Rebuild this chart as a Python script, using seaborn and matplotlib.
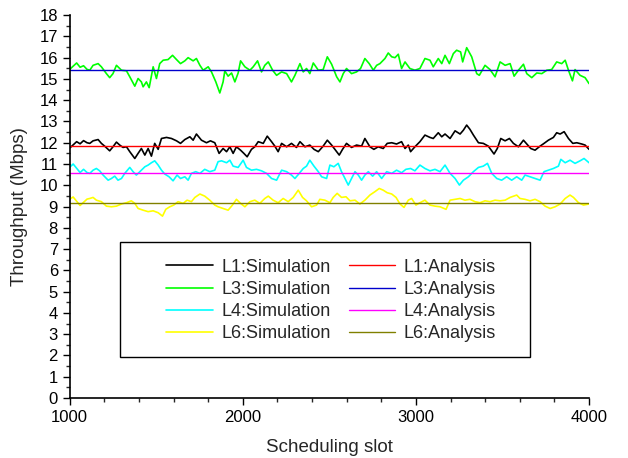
import seaborn as sns
import matplotlib.pyplot as plt
from matplotlib.patches import Rectangle
from matplotlib.ticker import MultipleLocator

# simulation traces (scheduling slot, Mbps)
l1_slot = [1000, 1020, 1040, 1060, 1080, 1100, 1116, 1135, 1164, 1183, 1202, 1231, 1250, 1270, 1289, 1308,
           1328, 1347, 1376, 1395, 1414, 1434, 1453, 1472, 1491, 1511, 1530, 1559, 1588, 1617, 1640, 1665,
           1694, 1713, 1732, 1761, 1790, 1813, 1838, 1863, 1886, 1906, 1925, 1944, 1963, 1987, 2006, 2025,
           2050, 2069, 2089, 2118, 2141, 2166, 2185, 2204, 2224, 2253, 2281, 2310, 2330, 2359, 2387, 2411,
           2436, 2464, 2488, 2513, 2532, 2557, 2576, 2599, 2628, 2657, 2686, 2705, 2734, 2757, 2782, 2811,
           2834, 2860, 2888, 2917, 2937, 2956, 2969, 2994, 3023, 3052, 3081, 3100, 3129, 3149, 3168, 3197,
           3226, 3255, 3274, 3293, 3312, 3332, 3361, 3389, 3418, 3451, 3470, 3490, 3515, 3540, 3563, 3592,
           3621, 3640, 3663, 3688, 3717, 3740, 3765, 3794, 3813, 3833, 3856, 3881, 3906, 3929, 3958, 3977, 4000]
l1_sim = [11.75, 11.90, 12.05, 11.95, 12.10, 12.00, 11.97, 12.09, 12.15, 11.97, 11.84, 11.62, 11.81, 12.03, 11.89, 11.78,
          11.81, 11.58, 11.26, 11.50, 11.73, 11.42, 11.73, 11.37, 11.97, 11.69, 12.20, 12.25, 12.20, 12.09, 11.97, 12.15,
          12.28, 12.12, 12.41, 12.12, 12.00, 12.09, 12.00, 11.50, 11.73, 11.58, 11.81, 11.50, 11.81, 11.65, 11.50, 11.34,
          11.69, 11.81, 12.05, 11.97, 12.31, 12.05, 11.84, 11.58, 11.97, 11.81, 11.97, 11.78, 12.05, 11.81, 11.89, 11.69,
          11.58, 11.84, 12.12, 11.89, 11.69, 11.42, 11.69, 11.97, 11.78, 11.89, 11.84, 12.20, 11.81, 11.69, 11.81, 11.73,
          11.97, 12.00, 11.94, 12.05, 11.73, 11.89, 11.58, 11.81, 12.05, 12.36, 12.25, 12.20, 12.47, 12.28, 12.41, 12.20,
          12.56, 12.41, 12.59, 12.83, 12.63, 12.36, 12.00, 11.97, 11.84, 11.47, 11.73, 12.20, 12.09, 12.20, 11.97, 11.81,
          12.12, 11.94, 11.73, 11.65, 11.84, 11.97, 12.12, 12.25, 12.47, 12.41, 12.52, 12.20, 11.97, 12.00, 11.94, 11.89, 11.69]

l3_slot = [1000, 1020, 1040, 1060, 1080, 1100, 1116, 1135, 1164, 1183, 1212, 1231, 1250, 1270, 1299, 1328,
           1347, 1376, 1395, 1414, 1424, 1443, 1459, 1482, 1501, 1520, 1540, 1568, 1594, 1617, 1640, 1665,
           1684, 1713, 1732, 1752, 1771, 1800, 1819, 1844, 1867, 1886, 1896, 1915, 1935, 1954, 1973, 1987,
           2012, 2041, 2060, 2085, 2108, 2127, 2147, 2172, 2195, 2224, 2253, 2281, 2301, 2330, 2349, 2368,
           2387, 2407, 2436, 2464, 2488, 2513, 2542, 2561, 2580, 2599, 2628, 2657, 2680, 2705, 2730, 2754,
           2773, 2792, 2821, 2840, 2860, 2879, 2898, 2917, 2937, 2965, 2994, 3023, 3052, 3081, 3100, 3129,
           3149, 3168, 3193, 3216, 3235, 3258, 3270, 3293, 3322, 3351, 3366, 3399, 3428, 3457, 3486, 3515,
           3544, 3567, 3592, 3621, 3640, 3669, 3698, 3727, 3756, 3784, 3813, 3842, 3862, 3881, 3904, 3919,
           3948, 3977, 4000]
l3_sim = [15.45, 15.60, 15.75, 15.55, 15.62, 15.45, 15.41, 15.64, 15.72, 15.57, 15.25, 15.06, 15.25, 15.64, 15.41, 15.38,
          15.10, 14.66, 15.02, 14.86, 14.63, 14.86, 14.59, 15.57, 15.02, 15.72, 15.88, 15.91, 16.11, 15.91, 15.72, 15.85,
          16.00, 15.85, 15.96, 15.64, 15.41, 15.57, 15.33, 14.86, 14.34, 14.86, 15.38, 15.13, 15.28, 14.86, 15.28, 15.85,
          15.57, 15.41, 15.57, 15.85, 15.33, 15.64, 15.80, 15.41, 15.17, 15.33, 15.25, 14.86, 15.17, 15.72, 15.33, 15.49,
          15.25, 15.75, 15.41, 15.44, 16.04, 15.69, 15.10, 14.86, 15.25, 15.49, 15.25, 15.33, 15.49, 15.96, 15.72, 15.41,
          15.64, 15.72, 15.96, 16.22, 16.04, 16.00, 16.16, 15.49, 15.80, 15.49, 15.41, 15.49, 15.96, 15.88, 15.57, 15.96,
          15.72, 16.11, 15.72, 16.19, 16.35, 16.27, 15.80, 16.47, 16.04, 15.25, 15.17, 15.64, 15.44, 15.10, 15.80, 15.64,
          15.72, 15.13, 15.41, 15.69, 15.25, 15.06, 15.28, 15.25, 15.41, 15.44, 15.80, 15.72, 15.88, 15.41, 14.91, 15.44,
          15.17, 15.06, 14.78]

l4_slot = [1000, 1020, 1040, 1060, 1080, 1100, 1116, 1135, 1154, 1173, 1193, 1222, 1241, 1260, 1279, 1299,
           1318, 1347, 1366, 1385, 1414, 1434, 1453, 1472, 1491, 1511, 1530, 1549, 1574, 1597, 1620, 1640,
           1665, 1684, 1703, 1728, 1752, 1780, 1809, 1838, 1857, 1877, 1906, 1925, 1944, 1973, 2002, 2021,
           2050, 2079, 2108, 2137, 2166, 2195, 2224, 2253, 2281, 2301, 2326, 2349, 2368, 2387, 2411, 2436,
           2455, 2484, 2503, 2526, 2551, 2570, 2590, 2609, 2628, 2648, 2667, 2686, 2705, 2725, 2750, 2773,
           2802, 2831, 2860, 2888, 2917, 2942, 2969, 2994, 3023, 3052, 3081, 3110, 3139, 3168, 3197, 3226,
           3251, 3274, 3303, 3332, 3361, 3389, 3413, 3438, 3467, 3495, 3524, 3553, 3582, 3611, 3630, 3659,
           3688, 3717, 3740, 3765, 3794, 3823, 3837, 3862, 3890, 3919, 3948, 3971, 4000]
l4_sim = [10.85, 11.00, 10.80, 10.60, 10.75, 10.60, 10.56, 10.71, 10.79, 10.68, 10.48, 10.24, 10.32, 10.43, 10.24, 10.32,
          10.56, 10.84, 10.64, 10.48, 10.71, 10.87, 10.95, 11.06, 11.15, 10.95, 10.71, 10.53, 10.40, 10.21, 10.48, 10.32,
          10.40, 10.24, 10.56, 10.64, 10.56, 10.75, 10.64, 10.71, 11.11, 11.15, 11.06, 11.18, 10.90, 10.84, 11.18, 10.84,
          10.71, 10.75, 10.68, 10.56, 10.32, 10.24, 10.71, 10.64, 10.48, 10.32, 10.56, 10.79, 10.90, 11.18, 10.90, 10.64,
          10.40, 10.32, 10.95, 10.87, 11.03, 10.64, 10.32, 10.01, 10.32, 10.64, 10.48, 10.24, 10.48, 10.64, 10.43, 10.64,
          10.32, 10.64, 10.56, 10.71, 10.59, 10.75, 10.79, 10.68, 10.95, 10.79, 10.68, 10.75, 10.64, 10.95, 10.56, 10.32,
          10.01, 10.24, 10.40, 10.64, 10.84, 10.90, 11.03, 10.56, 10.32, 10.24, 10.40, 10.24, 10.40, 10.24, 10.48, 10.40,
          10.32, 10.24, 10.64, 10.71, 10.79, 10.90, 11.22, 11.06, 11.18, 11.03, 11.15, 11.26, 11.06]

l6_slot = [1000, 1020, 1040, 1060, 1080, 1100, 1116, 1135, 1154, 1183, 1212, 1241, 1270, 1299, 1328, 1356,
           1376, 1395, 1424, 1453, 1482, 1511, 1536, 1555, 1578, 1601, 1626, 1655, 1678, 1703, 1723, 1752,
           1780, 1809, 1838, 1857, 1886, 1915, 1940, 1963, 1987, 2012, 2041, 2069, 2098, 2127, 2147, 2175,
           2204, 2233, 2262, 2291, 2320, 2345, 2368, 2397, 2426, 2445, 2474, 2503, 2522, 2545, 2570, 2596,
           2619, 2648, 2676, 2705, 2734, 2763, 2788, 2811, 2834, 2860, 2885, 2908, 2931, 2956, 2975, 3000,
           3023, 3052, 3081, 3110, 3139, 3174, 3197, 3226, 3255, 3283, 3312, 3341, 3370, 3399, 3428, 3457,
           3486, 3515, 3544, 3582, 3601, 3630, 3659, 3688, 3717, 3746, 3775, 3804, 3833, 3862, 3890, 3910,
           3939, 3968, 4000]
l6_sim = [9.35, 9.45, 9.25, 9.05, 9.20, 9.35, 9.38, 9.43, 9.30, 9.23, 9.02, 8.99, 9.02, 9.12, 9.18, 9.27,
          9.15, 8.91, 8.83, 8.76, 8.80, 8.71, 8.55, 8.87, 8.99, 9.07, 9.23, 9.15, 9.30, 9.23, 9.43, 9.59,
          9.49, 9.30, 9.07, 8.99, 8.91, 8.83, 9.07, 9.34, 9.15, 8.99, 9.23, 9.30, 9.15, 9.38, 9.49, 9.30,
          9.18, 9.38, 9.23, 9.43, 9.77, 9.43, 9.27, 8.99, 9.07, 9.34, 9.30, 9.18, 9.43, 9.62, 9.43, 9.46,
          9.27, 9.30, 9.12, 9.30, 9.54, 9.70, 9.85, 9.77, 9.65, 9.59, 9.43, 9.12, 8.96, 9.30, 9.38, 9.07,
          9.18, 9.30, 9.07, 9.02, 8.99, 8.87, 9.30, 9.34, 9.38, 9.30, 9.34, 9.23, 9.18, 9.27, 9.23, 9.30,
          9.27, 9.30, 9.43, 9.54, 9.38, 9.34, 9.27, 9.34, 9.23, 9.02, 8.91, 8.99, 9.12, 9.38, 9.54, 9.43,
          9.18, 9.07, 9.12]

# analytical throughput (constant over the run)
slot_range = [1000, 4000]
l1_ana = 11.87
l3_ana = 15.44
l4_ana = 10.57
l6_ana = 9.15

sns.set_style("ticks")
plt.rcParams['font.family'] = ['Liberation Sans', 'DejaVu Sans']

fig = plt.figure(figsize=(6.28, 4.58), dpi=100)
ax = fig.add_axes([0.111, 0.131, 0.827, 0.836])

sim_lw = 1.2
sns.lineplot(x=l1_slot, y=l1_sim, color="black", lw=sim_lw, label="L1:Simulation", ax=ax)
sns.lineplot(x=l3_slot, y=l3_sim, color="#00ff00", lw=sim_lw, label="L3:Simulation", ax=ax)
sns.lineplot(x=l4_slot, y=l4_sim, color="#00ffff", lw=sim_lw, label="L4:Simulation", ax=ax)
sns.lineplot(x=l6_slot, y=l6_sim, color="#ffff00", lw=sim_lw, label="L6:Simulation", ax=ax)

ana_lw = 1.0
sns.lineplot(x=slot_range, y=[l1_ana] * 2, color="#ff0000", lw=ana_lw, label="L1:Analysis", ax=ax)
sns.lineplot(x=slot_range, y=[l3_ana] * 2, color="#0000cc", lw=ana_lw, label="L3:Analysis", ax=ax)
sns.lineplot(x=slot_range, y=[l4_ana] * 2, color="#ff00ff", lw=ana_lw, label="L4:Analysis", ax=ax)
sns.lineplot(x=slot_range, y=[l6_ana] * 2, color="#808000", lw=ana_lw, label="L6:Analysis", ax=ax)

ax.set_xlim(1000, 4000)
ax.set_ylim(0, 18)
ax.xaxis.set_major_locator(MultipleLocator(1000))
ax.xaxis.set_minor_locator(MultipleLocator(200))
ax.yaxis.set_major_locator(MultipleLocator(1))
ax.yaxis.set_minor_locator(MultipleLocator(0.5))
ax.tick_params(which="major", direction="out", length=5, width=1, labelsize=12, colors="black")
ax.tick_params(which="minor", direction="out", length=3, width=1)
sns.despine(ax=ax)
for s in ["left", "bottom"]:
    ax.spines[s].set_linewidth(1.2)
    ax.spines[s].set_color("black")

ax.set_xlabel("Scheduling slot", fontsize=13.5, labelpad=10)
ax.set_ylabel("Throughput (Mbps)", fontsize=13.5, labelpad=8)

# legend box
ax.add_patch(Rectangle((0.096, 0.107), 0.79, 0.30, transform=ax.transAxes,
                       fill=False, edgecolor="black", lw=1.0, zorder=5))
ax.legend(ncol=2, loc="center", bbox_to_anchor=(0.503, 0.255), frameon=False,
          fontsize=13, handlelength=2.6, handletextpad=0.45, columnspacing=1.0,
          labelspacing=0.28)

fig.savefig("out.png", dpi=100)
